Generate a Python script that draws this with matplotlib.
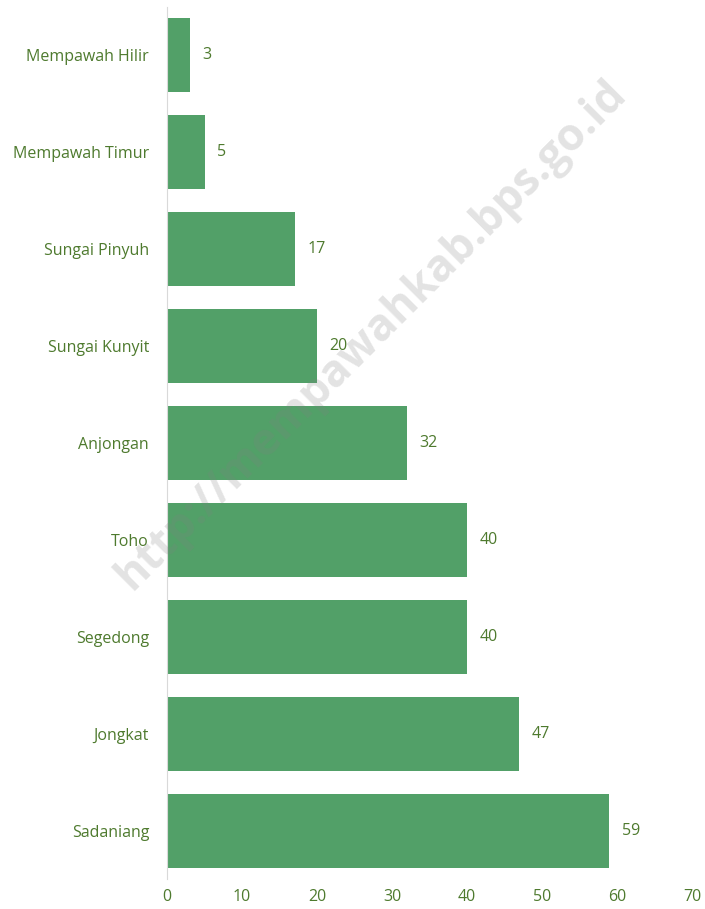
import matplotlib.pyplot as plt

kecamatan = ['Mempawah Hilir', 'Mempawah Timur', 'Sungai Pinyuh', 'Sungai Kunyit',
             'Anjongan', 'Toho', 'Segedong', 'Jongkat', 'Sadaniang']
jumlah = [3, 5, 17, 20, 32, 40, 40, 47, 59]

bar_color = '#52a068'
text_color = '#4e7a2e'
plt.rcParams['font.family'] = ['Open Sans', 'DejaVu Sans']

fig = plt.figure(figsize=(7.05, 9.09), dpi=100)
ax = fig.add_axes([0.237, 0.0325, 0.7445, 0.9603])

y = list(range(len(kecamatan)))
bars = ax.barh(y, jumlah, height=0.76, color=bar_color, zorder=2)
ax.bar_label(bars, padding=9, color=text_color, fontsize=11.5)

ax.set_ylim(len(kecamatan) - 0.5, -0.5)
ax.set_xlim(0, 70)
ax.set_xticks(range(0, 71, 10))
ax.set_yticks(y)
ax.set_yticklabels(kecamatan)
ax.tick_params(axis='both', length=0, colors=text_color, labelsize=11.5)
ax.tick_params(axis='y', pad=13)
ax.tick_params(axis='x', pad=7)

for s in ['top', 'right', 'bottom']:
    ax.spines[s].set_visible(False)
ax.spines['left'].set_color('#d9d9d9')

ax.text(0.39, 0.624, 'http://mempawahkab.bps.go.id', transform=ax.transAxes,
        rotation=45, ha='center', va='center', fontsize=32, fontweight='bold',
        color='#808080', alpha=0.22, zorder=5)

fig.savefig('out.png', dpi=100)
